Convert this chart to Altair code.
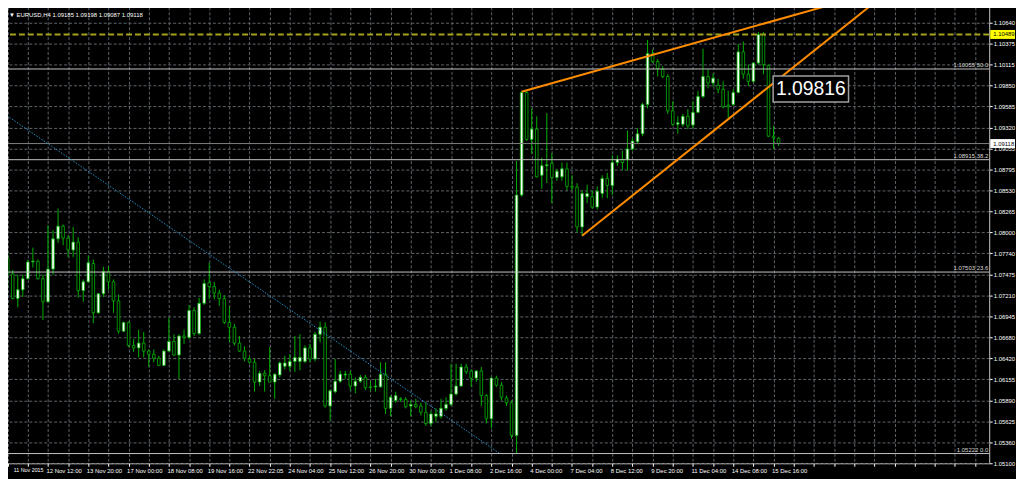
import json
import altair as alt
import pandas as pd

# ---------------- data (EURUSD H4, bar 0 = 11 Nov 2015 04:00) ----------------
opens = [
    1.0768, 1.0748, 1.0717, 1.0728, 1.0742, 1.0763, 1.0764, 1.0742, 1.0713, 1.0754,
    1.0792, 1.0808, 1.0793, 1.0778, 1.0788, 1.0727, 1.0738, 1.0761, 1.0699, 1.0723,
    1.0751, 1.0738, 1.0714, 1.0676, 1.0687, 1.0658, 1.0655, 1.0661, 1.0651, 1.0647,
    1.0642, 1.0633, 1.0651, 1.0663, 1.0646, 1.0670, 1.0668, 1.0702, 1.0673, 1.0711,
    1.0737, 1.0732, 1.0724, 1.0717, 1.0687, 1.0681, 1.0661, 1.0651, 1.0641, 1.0637,
    1.0612, 1.0623, 1.0620, 1.0612, 1.0621, 1.0632, 1.0632, 1.0638, 1.0638, 1.0638,
    1.0655, 1.0641, 1.0672, 1.0681, 1.0582, 1.0600, 1.0613, 1.0621, 1.0622, 1.0607,
    1.0613, 1.0618, 1.0606, 1.0606, 1.0606, 1.0622, 1.0579, 1.0589, 1.0591, 1.0590,
    1.0582, 1.0584, 1.0582, 1.0574, 1.0560, 1.0569, 1.0569, 1.0579, 1.0584, 1.0597,
    1.0607, 1.0631, 1.0626, 1.0617, 1.0626, 1.0595, 1.0566, 1.0617, 1.0608, 1.0592,
    1.0586, 1.0545, 1.0847, 1.0976, 1.0917, 1.0930, 1.0872, 1.0884, 1.0887, 1.0869,
    1.0870, 1.0880, 1.0858, 1.0857, 1.0807, 1.0845, 1.0845, 1.0832, 1.0849, 1.0868,
    1.0859, 1.0888, 1.0892, 1.0892, 1.0905, 1.0914, 1.0924, 1.0961, 1.1025, 1.1015,
    1.1005, 1.0996, 1.0953, 1.0936, 1.0936, 1.0946, 1.0935, 1.0951, 1.0971, 1.0996,
    1.0988, 1.0985, 1.0980, 1.0960, 1.0961, 1.0976, 1.1027, 1.0999, 1.0990, 1.1013,
    1.1049, 1.1010, 1.0921, 1.09185,
]
highs = [
    1.0776, 1.0753, 1.0747, 1.0747, 1.0766, 1.0781, 1.0766, 1.0747, 1.0809, 1.0803,
    1.0830, 1.0810, 1.0797, 1.0807, 1.0794, 1.0741, 1.0771, 1.0766, 1.0724, 1.0757,
    1.0757, 1.0741, 1.0722, 1.0688, 1.0688, 1.0666, 1.0678, 1.0675, 1.0653, 1.0653,
    1.0645, 1.0653, 1.0693, 1.0672, 1.0672, 1.0678, 1.0709, 1.0706, 1.0718, 1.0741,
    1.0762, 1.0738, 1.0728, 1.0721, 1.0707, 1.0685, 1.0670, 1.0657, 1.0645, 1.0641,
    1.0626, 1.0627, 1.0656, 1.0623, 1.0638, 1.0645, 1.0647, 1.0670, 1.0672, 1.0658,
    1.0660, 1.0675, 1.0688, 1.0687, 1.0603, 1.0641, 1.0626, 1.0626, 1.0626, 1.0618,
    1.0621, 1.0621, 1.0613, 1.0616, 1.0637, 1.0637, 1.0595, 1.0600, 1.0593, 1.0593,
    1.0589, 1.0591, 1.0586, 1.0587, 1.0575, 1.0579, 1.0591, 1.0593, 1.0635, 1.0635,
    1.0635, 1.0635, 1.0628, 1.0627, 1.0631, 1.0597, 1.0618, 1.0620, 1.0612, 1.0595,
    1.0589, 1.0890, 1.0978, 1.0978, 1.0956, 1.0946, 1.0894, 1.0950, 1.0900, 1.0880,
    1.0888, 1.0888, 1.0872, 1.0862, 1.0853, 1.0860, 1.0853, 1.0858, 1.0872, 1.0875,
    1.0897, 1.0897, 1.0903, 1.0928, 1.0919, 1.0931, 1.0963, 1.1042, 1.1030, 1.1018,
    1.1009, 1.0999, 1.0965, 1.0946, 1.0949, 1.0955, 1.0965, 1.0978, 1.1031, 1.1005,
    1.1000, 1.0993, 1.0990, 1.0978, 1.0980, 1.1037, 1.1040, 1.1011, 1.1014, 1.1052,
    1.1052, 1.1011, 1.0934, 1.09198,
]
lows = [
    1.0731, 1.0716, 1.0706, 1.0719, 1.0741, 1.0756, 1.0741, 1.0690, 1.0712, 1.0747,
    1.0787, 1.0784, 1.0769, 1.0769, 1.0718, 1.0713, 1.0737, 1.0686, 1.0698, 1.0719,
    1.0728, 1.0699, 1.0673, 1.0675, 1.0656, 1.0650, 1.0643, 1.0643, 1.0631, 1.0637,
    1.0632, 1.0632, 1.0650, 1.0645, 1.0616, 1.0660, 1.0666, 1.0670, 1.0671, 1.0709,
    1.0716, 1.0716, 1.0708, 1.0685, 1.0662, 1.0658, 1.0650, 1.0638, 1.0635, 1.0600,
    1.0607, 1.0600, 1.0612, 1.0591, 1.0618, 1.0628, 1.0626, 1.0625, 1.0627, 1.0636,
    1.0637, 1.0638, 1.0662, 1.0580, 1.0564, 1.0598, 1.0611, 1.0616, 1.0601, 1.0598,
    1.0611, 1.0602, 1.0601, 1.0600, 1.0605, 1.0572, 1.0569, 1.0586, 1.0587, 1.0579,
    1.0569, 1.0579, 1.0570, 1.0557, 1.0557, 1.0562, 1.0566, 1.0576, 1.0582, 1.0595,
    1.0606, 1.0622, 1.0606, 1.0612, 1.0582, 1.0560, 1.0554, 1.0606, 1.0589, 1.0582,
    1.0541, 1.05222, 1.0845, 1.0915, 1.0899, 1.0869, 1.0855, 1.0862, 1.0837, 1.0865,
    1.0865, 1.0853, 1.0853, 1.0800, 1.0796, 1.0837, 1.0830, 1.0829, 1.0843, 1.0843,
    1.0847, 1.0884, 1.0878, 1.0878, 1.0903, 1.0911, 1.0921, 1.0956, 1.1013, 1.0996,
    1.0994, 1.0949, 1.0934, 1.0924, 1.0933, 1.0930, 1.0931, 1.0950, 1.0969, 1.0981,
    1.0983, 1.0975, 1.0956, 1.0944, 1.0959, 1.0975, 1.0993, 1.0984, 1.0988, 1.1011,
    1.0999, 1.0920, 1.0905, 1.09087,
]
closes = [
    1.0748, 1.0717, 1.0728, 1.0742, 1.0763, 1.0764, 1.0742, 1.0713, 1.0754, 1.0792,
    1.0808, 1.0793, 1.0778, 1.0788, 1.0727, 1.0738, 1.0762, 1.0699, 1.0723, 1.0751,
    1.0738, 1.0714, 1.0676, 1.0687, 1.0658, 1.0655, 1.0661, 1.0651, 1.0647, 1.0642,
    1.0633, 1.0651, 1.0663, 1.0646, 1.0670, 1.0668, 1.0702, 1.0673, 1.0711, 1.0736,
    1.0732, 1.0724, 1.0717, 1.0687, 1.0681, 1.0661, 1.0651, 1.0642, 1.0637, 1.0612,
    1.0623, 1.0620, 1.0612, 1.0622, 1.0636, 1.0636, 1.0638, 1.0643, 1.0643, 1.0655,
    1.0641, 1.0672, 1.0681, 1.0582, 1.0601, 1.0613, 1.0622, 1.0622, 1.0607, 1.0613,
    1.0618, 1.0605, 1.0605, 1.0607, 1.0622, 1.0579, 1.0593, 1.0595, 1.0590, 1.0581,
    1.0584, 1.0581, 1.0574, 1.0560, 1.0572, 1.0572, 1.0579, 1.0584, 1.0597, 1.0607,
    1.0631, 1.0625, 1.0617, 1.0626, 1.0595, 1.0566, 1.0617, 1.0608, 1.0593, 1.0586,
    1.0545, 1.0847, 1.0976, 1.0917, 1.0930, 1.0870, 1.0884, 1.0885, 1.0869, 1.0877,
    1.0880, 1.0858, 1.0857, 1.0807, 1.0849, 1.0849, 1.0832, 1.0852, 1.0868, 1.0859,
    1.0888, 1.0892, 1.0888, 1.0905, 1.0915, 1.0924, 1.0961, 1.1025, 1.1015, 1.1006,
    1.0996, 1.0953, 1.0936, 1.0938, 1.0946, 1.0934, 1.0951, 1.0971, 1.0996, 1.0988,
    1.0994, 1.0980, 1.0958, 1.0958, 1.0976, 1.1027, 1.0999, 1.0990, 1.1013, 1.1049,
    1.1011, 1.0921, 1.0919, 1.09118,
]
bars = list(range(len(opens)))

time_labels = [
    "11 Nov 2015", "12 Nov 12:00", "13 Nov 20:00", "17 Nov 00:00", "18 Nov 08:00",
    "19 Nov 16:00", "22 Nov 22:05", "24 Nov 04:00", "25 Nov 12:00", "26 Nov 20:00",
    "30 Nov 00:00", "1 Dec 08:00", "2 Dec 16:00", "4 Dec 00:00", "7 Dec 04:00",
    "8 Dec 12:00", "9 Dec 20:00", "11 Dec 04:00", "14 Dec 08:00", "15 Dec 16:00",
]
price_ticks = [
    1.10640, 1.10375, 1.10115, 1.09850, 1.09585, 1.09320, 1.09055, 1.08795,
    1.08530, 1.08265, 1.08000, 1.07740, 1.07475, 1.07210, 1.06945, 1.06680,
    1.06420, 1.06155, 1.05890, 1.05625, 1.05360, 1.05100,
]
fib_prices = [1.10055, 1.08915, 1.07503, 1.05222]
fib_levels = ["50.0", "38.2", "23.6", "0.0"]

wedge_upper_bars = [102, 170]
wedge_upper_prices = [1.0977, 1.1098]
wedge_lower_bars = [114, 175]
wedge_lower_prices = [1.0796, 1.1104]
channel_bars = [-5, 97.5]
channel_prices = [1.0968, 1.0523]

bid_price = 1.09118
hline_price = 1.10489
note_price = 1.09816
note_bar = 159.4
header_text = "\u25bc EURUSD,H4  1.09185 1.09198 1.09087 1.09118"

# ---------------- styling ----------------
FONT = "Liberation Sans"
GREEN = "#00b300"
GRID = "#5e646a"
W, H = 996, 465

xscale = alt.Scale(domain=[-0.3314, 193.82], nice=False, zero=False)
yscale = alt.Scale(domain=[1.05100, 1.10898], nice=False, zero=False)

label_js = json.dumps(time_labels)
xaxis = alt.Axis(
    values=list(range(0, 193, 4)), grid=True, gridColor=GRID, gridDash=[3, 2],
    gridWidth=1, domain=False, title=None,
    labelExpr=f"(datum.value % 8 == 0 && datum.value <= 152) ? {label_js}[datum.value / 8] : ''",
    labelAlign="left", labelBaseline="top",
    labelOffset={"condition": {"test": "datum.value == 0", "value": 5.5}, "value": -2},
    labelFontSize={"condition": {"test": "datum.value == 0", "value": 5.4}, "value": 6},
    labelPadding=1, labelFont=FONT, labelColor="#ffffff",
    tickColor="#ffffff", tickSize=3, labelOverlap=False, labelFlush=False,
    labelBound=False,
)
yaxis = alt.Axis(
    orient="right", values=price_ticks, format=".5f", grid=True, gridColor=GRID,
    gridDash=[3, 2], gridWidth=1, domain=False, title=None, labelFont=FONT,
    labelFontSize=6, labelColor="#ffffff", tickColor="#ffffff", tickSize=3,
    labelPadding=1, labelOverlap=False, labelBaseline="middle",
)

def X(field):
    return alt.X(field, type="quantitative", scale=xscale, axis=xaxis)

def Y(field):
    return alt.Y(field, type="quantitative", scale=yscale, axis=yaxis)

candles = pd.DataFrame({
    "i": bars, "o": opens, "h": highs, "l": lows, "c": closes,
})
candles["dir"] = ["up" if c >= o else "down" for o, c in zip(opens, closes)]

wicks = alt.Chart(candles).mark_rule(color=GREEN, strokeWidth=1, clip=True).encode(
    x=X("i"), y=Y("l"), y2="h"
)
bodies = alt.Chart(candles).mark_bar(size=2.6, stroke=GREEN, strokeWidth=0.8, clip=True).encode(
    x=X("i"), y=Y("o"), y2="c",
    fill=alt.Fill("dir:N", scale=alt.Scale(domain=["up", "down"], range=["#ffffff", "#000000"]), legend=None),
)

fib_df = pd.DataFrame({
    "p": fib_prices,
    "t": [f"{p:.5f} {lv}" for p, lv in zip(fib_prices, fib_levels)],
})
fib_lines = alt.Chart(fib_df).mark_rule(color="#c4c4c4", strokeWidth=1).encode(y=Y("p"))
fib_text = alt.Chart(fib_df).mark_text(
    align="right", baseline="bottom", dy=-1, font=FONT, fontSize=6, color="#d8d8d8"
).encode(x=alt.value(W - 1), y=Y("p"), text="t:N")

hline_df = pd.DataFrame({"p": [hline_price]})
hline = alt.Chart(hline_df).mark_rule(color="#a3a31c", strokeWidth=2, strokeDash=[6, 3]).encode(y=Y("p"))
bid_df = pd.DataFrame({"p": [bid_price]})
bidline = alt.Chart(bid_df).mark_rule(color="#7f7f7f", strokeWidth=1).encode(y=Y("p"))

chan_df = pd.DataFrame({"i": channel_bars, "p": channel_prices})
channel = alt.Chart(chan_df).mark_line(color="#2290c8", strokeWidth=1, strokeDash=[1.5, 1.5], clip=True).encode(
    x=X("i"), y=Y("p")
)

wedge_df = pd.DataFrame({
    "i": wedge_upper_bars + wedge_lower_bars,
    "p": wedge_upper_prices + wedge_lower_prices,
    "g": ["upper", "upper", "lower", "lower"],
})
wedge = alt.Chart(wedge_df).mark_line(color="#ff8c00", strokeWidth=2, clip=True).encode(
    x=X("i"), y=Y("p"), detail="g:N"
)

note_df = pd.DataFrame({"i": [note_bar], "p": [note_price], "t": [f"{note_price:.5f}"]})
note_box = alt.Chart(note_df).mark_point(
    shape="M-1,-0.342L1,-0.342L1,0.342L-1,0.342Z", size=76 * 76, filled=True,
    fill="#000000", stroke="#a0a0a0", strokeWidth=1.5, opacity=1, fillOpacity=1,
    strokeOpacity=1, yOffset=1,
).encode(x=X("i"), y=Y("p"))
note_text = alt.Chart(note_df).mark_text(
    font=FONT, fontSize=19.5, color="#ffffff", align="center", baseline="middle", dy=1
).encode(x=X("i"), y=Y("p"), text="t:N")

tag_df = pd.DataFrame({
    "p": [hline_price, bid_price],
    "t": [f"{hline_price:.5f}", f"{bid_price:.5f}"],
    "bg": ["#ffff00", "#ffffff"],
})
tag_box = alt.Chart(tag_df).mark_rect(yOffset=-4.5, y2Offset=4.5, clip=False).encode(
    x=alt.value(W + 1), x2=alt.value(W + 26), y=Y("p"), y2="p:Q",
    color=alt.Color("bg:N", scale=None, legend=None),
)
tag_text = alt.Chart(tag_df).mark_text(
    align="left", baseline="middle", font=FONT, fontSize=6, color="#000000", clip=False
).encode(x=alt.value(W + 4), y=Y("p"), text="t:N")

header_df = pd.DataFrame({"t": [header_text]})
header = alt.Chart(header_df).mark_text(
    align="left", baseline="middle", font=FONT, fontSize=6, color="#ffffff"
).encode(x=alt.value(8), y=alt.value(13), text="t:N")

chart = alt.layer(
    wicks, bodies, fib_lines, fib_text, hline, bidline, channel, wedge,
    note_box, note_text, tag_box, tag_text, header,
).properties(
    width=W, height=H, background="#000000",
    padding={"left": -7, "top": -8, "right": 27, "bottom": 14},
    autosize=alt.AutoSizeParams(type="none"),
).configure_view(stroke="#c8c8c8", strokeWidth=1, fill="#000000")

chart.save("out.html", embed_options={"renderer": "svg", "actions": False})
